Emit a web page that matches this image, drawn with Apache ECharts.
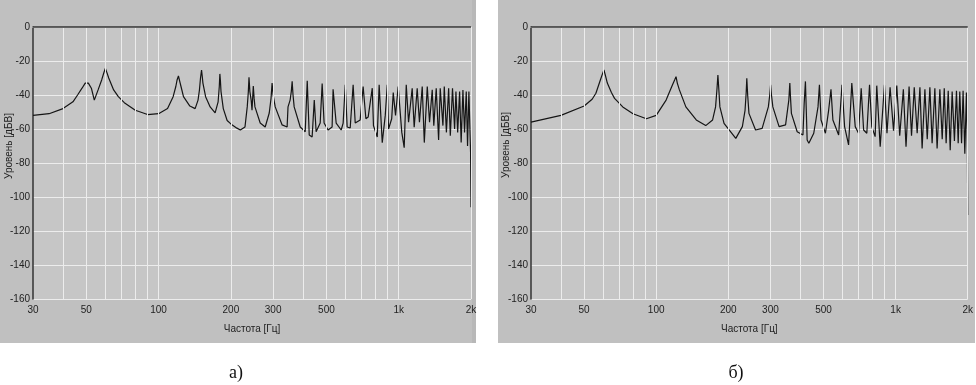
<!DOCTYPE html>
<html>
<head>
<meta charset="utf-8">
<script src="https://cdn.jsdelivr.net/npm/echarts@6/dist/echarts.min.js"></script>
<style>
  html, body { margin: 0; padding: 0; background: #fff; }
  #chart { width: 976px; height: 385px; }
</style>
</head>
<body>
<div id="chart"></div>
<script>
// spectrum a) - frequency [Hz] / level [dBV]
var freqA = [30, 35, 40, 44, 46, 48, 49.5, 51, 52.5, 54, 56, 58, 59, 60, 61, 62, 65, 68, 72, 80, 90, 100, 109, 115, 118, 119.5, 121, 122.5, 124, 127, 135, 142, 146, 148, 149.5, 151, 152, 153, 157, 164, 172, 177, 179, 180, 181, 182, 186, 193, 200, 212, 219, 229, 234, 236.5, 238, 240, 243, 245, 248, 250, 252, 265, 278, 289, 294, 297, 300, 306, 327, 343, 346, 353, 357, 360, 363, 367, 389, 408, 416, 424, 436, 445, 453, 471, 480, 489, 508, 528, 533, 549, 576, 587, 599, 610, 628, 646, 659, 691, 711, 730, 746, 776, 785, 814, 829, 854, 879, 896, 907, 935, 949, 970, 995, 1030, 1054, 1075, 1099, 1138, 1160, 1194, 1220, 1253, 1278, 1315, 1344, 1379, 1400, 1433, 1466, 1489, 1528, 1548, 1580, 1614, 1640, 1675, 1709, 1731, 1760, 1793, 1820, 1851, 1880, 1911, 1935, 1960, 1992, 2000];
var levelA = [-52, -51, -48, -44, -40, -36, -33, -33, -36, -43, -37, -31, -27.5, -24.3, -27, -30, -37, -41, -44.5, -49, -51.5, -51, -48, -41, -35, -31, -28.8, -32, -35, -41, -46.5, -48, -43, -37, -30, -25.3, -29, -33, -41, -47, -50.5, -44, -35, -27.6, -32, -38, -48, -55, -57, -59.5, -60.6, -58.8, -47, -38, -29.6, -38, -43, -49, -34.7, -42, -47, -56.5, -58.8, -50.6, -42, -33, -40, -47, -57.6, -58.8, -47, -43, -38, -32, -40, -47, -58.8, -61.6, -31.6, -63.5, -64.7, -43, -61.6, -56.5, -33.3, -56.5, -60.6, -58.8, -36.7, -56.5, -60.6, -56.5, -34, -58.8, -59.4, -34, -56.5, -54.7, -35, -54, -53, -36, -58, -64.7, -34, -68, -52, -34, -60, -54, -38.6, -52, -35, -62, -71, -34, -56, -36, -59, -36, -56, -35, -68, -35, -56, -37, -58, -36, -66.5, -36, -58, -35, -62, -36, -64, -36, -60, -38, -62, -38, -68, -37, -62, -38, -70, -38, -74, -106];

// spectrum б)
var freqB = [30, 40, 50, 54, 56, 58.5, 59.5, 60.5, 61.5, 62.5, 65, 67, 72.5, 80, 91, 100, 110, 117, 119.5, 121, 122.5, 125, 133, 147, 161, 172, 177, 179.5, 181, 182.5, 184.5, 192, 215, 229, 235, 237.5, 239, 241, 244, 260, 277, 294, 298, 300.5, 303, 307, 326, 347, 358, 361.5, 364, 367, 388, 410, 415, 420, 427, 434, 455, 474, 480.5, 488, 509, 525, 537, 547, 578, 597, 612, 636, 656, 678, 700, 718, 735, 758, 778, 795, 821, 834, 862, 898, 920, 948, 980, 1011, 1040, 1077, 1105, 1138, 1165, 1196, 1230, 1263, 1290, 1325, 1355, 1390, 1420, 1458, 1490, 1530, 1565, 1596, 1625, 1658, 1690, 1722, 1760, 1795, 1825, 1853, 1885, 1913, 1945, 1975, 1994, 2000];
var levelB = [-56, -52, -46.5, -42.5, -39, -31, -28, -25.3, -29, -33, -38.5, -42, -47, -51, -54, -52, -43, -34, -31, -29.2, -33, -37, -47, -54.7, -58, -54.7, -47, -36, -28.2, -36, -47, -56.7, -65.5, -58.6, -49, -39, -30.2, -40, -50.8, -60.6, -59.6, -47, -40, -34, -40, -47, -58.6, -57.6, -43, -33, -42, -50.8, -61.6, -63.5, -45, -32, -66.5, -68.4, -62.5, -47, -34, -54.7, -62.5, -49, -36.7, -54.7, -63.5, -34, -58.6, -69.4, -33, -58.6, -62.5, -36, -60.6, -62.5, -34, -58.6, -64.5, -34.5, -70.4, -34, -62.5, -35.5, -61, -34.5, -64, -36.7, -70.4, -35, -64, -35.5, -62.5, -35.5, -71.4, -36.7, -66, -35.5, -68.4, -36, -71.4, -36.7, -66, -36, -68.4, -37.5, -72.5, -38, -67, -37.5, -68.4, -38, -68.4, -37.5, -74.5, -38.6, -72, -110.6];

var xTicks = [30, 50, 100, 200, 300, 500, 1000, 2000];
var gridFreqs = [40, 50, 60, 70, 80, 90, 100, 200, 300, 400, 500, 600, 700, 800, 900, 1000, 2000];

var chart = echarts.init(document.getElementById('chart'));
var font = '"Liberation Sans", Arial, sans-serif';

function xAxisFor(i) {
  return {
    type: 'log', logBase: 10, gridIndex: i, min: 30, max: 2000,
    axisLine: { lineStyle: { color: '#ececec', width: 1 } },
    axisTick: { show: false },
    splitLine: { show: false },
    axisLabel: {
      customValues: xTicks, margin: 6, fontSize: 10, color: '#222', fontFamily: font,
      formatter: function (v) { return v >= 1000 ? (v / 1000) + 'k' : String(v); }
    },
    name: 'Частота [Гц]', nameLocation: 'middle', nameGap: 25,
    nameTextStyle: { fontSize: 10, color: '#222', fontFamily: font }
  };
}
function yAxisFor(i) {
  return {
    type: 'value', gridIndex: i, min: -160, max: 0, interval: 20,
    axisLine: { show: true, lineStyle: { color: '#333', width: 1.5 } },
    axisTick: { show: false },
    splitLine: { lineStyle: { color: '#ececec', width: 1 } },
    axisLabel: { margin: 3, fontSize: 10, color: '#222', fontFamily: font }
  };
}
function gridSeries(i) {
  return {
    type: 'line', xAxisIndex: i, yAxisIndex: i, data: [], z: 1, silent: true,
    markLine: {
      silent: true, symbol: 'none', animation: false,
      label: { show: false },
      lineStyle: { color: '#ececec', width: 1, type: 'solid' },
      data: gridFreqs.map(function (f) { return { xAxis: f }; })
        .concat([{ yAxis: 0, lineStyle: { color: '#333', width: 1.5, type: 'solid' } }])
    }
  };
}
function curveSeries(i, fs, ls) {
  return {
    type: 'line', xAxisIndex: i, yAxisIndex: i, z: 3,
    showSymbol: false, symbol: 'none',
    lineStyle: { color: '#151515', width: 1.2 },
    data: fs.map(function (f, k) { return [f, ls[k]]; })
  };
}
function axisTitle(x, y) {
  return {
    type: 'text', x: x, y: y, rotation: Math.PI / 2, z: 10,
    style: { text: 'Уровень [дБВ]', fontSize: 10, fill: '#222', fontFamily: font,
      align: 'center', verticalAlign: 'middle' }
  };
}

var option = {
  animation: false,
  backgroundColor: '#ffffff',
  graphic: [
    { type: 'rect', shape: { x: 0, y: 0, width: 476, height: 343 }, style: { fill: '#c0c0c0' }, z: -10 },
    { type: 'rect', shape: { x: 472, y: 0, width: 4, height: 343 }, style: { fill: '#b8b8b8' }, z: -10 },
    { type: 'rect', shape: { x: 498, y: 0, width: 477, height: 343 }, style: { fill: '#c0c0c0' }, z: -10 },
    axisTitle(9, 146),
    axisTitle(506, 145),
    { type: 'text', x: 236, y: 373, style: { text: 'а)', fontSize: 18, fill: '#111',
      fontFamily: '"Liberation Serif", "DejaVu Serif", serif', align: 'center', verticalAlign: 'middle' } },
    { type: 'text', x: 736, y: 373, style: { text: 'б)', fontSize: 18, fill: '#111',
      fontFamily: '"Liberation Serif", "DejaVu Serif", serif', align: 'center', verticalAlign: 'middle' } }
  ],
  grid: [
    { left: 33, top: 27, width: 438, height: 272, show: true, backgroundColor: '#c6c6c6', borderWidth: 0 },
    { left: 531, top: 27, width: 439, height: 272, show: true, backgroundColor: '#c6c6c6', borderWidth: 0 }
  ],
  xAxis: [xAxisFor(0), xAxisFor(1)],
  yAxis: [yAxisFor(0), yAxisFor(1)],
  series: [
    gridSeries(0), gridSeries(1),
    curveSeries(0, freqA, levelA),
    curveSeries(1, freqB, levelB)
  ]
};

option && chart.setOption(option);
</script>
</body>
</html>
